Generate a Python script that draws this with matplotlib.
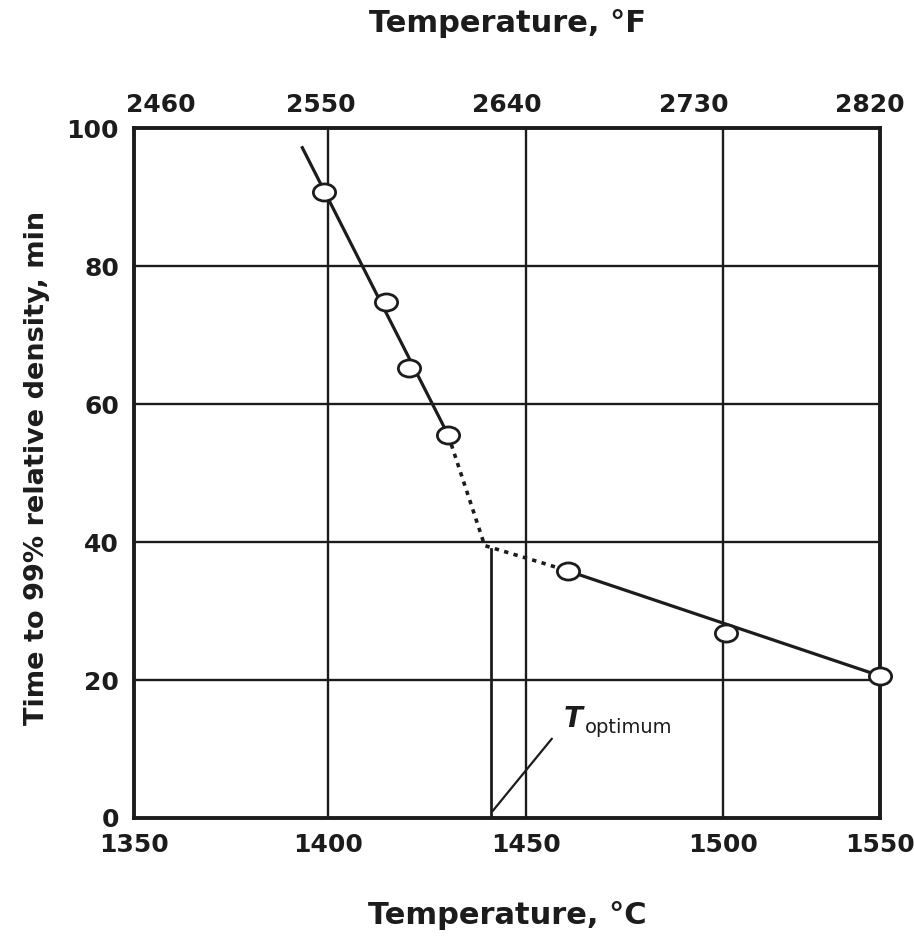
import numpy as np
import matplotlib
matplotlib.use("Agg")
import matplotlib.pyplot as plt
from matplotlib.path import Path
from matplotlib.transforms import Affine2D, ScaledTranslation

# ---- data ----
temp_c = [1399, 1414.6, 1420.5, 1430.3, 1460.7, 1500.8, 1550]
time_min = [90.8, 74.8, 65.2, 55.5, 35.8, 26.8, 20.6]

upper_fit_x = [1393.3, 1430.3]
upper_fit_y = [97.2, 55.5]
extrap_x = [1430.3, 1439.5, 1454.0, 1460.7]
extrap_y = [55.5, 39.5, 37.0, 35.8]
lower_fit_x = [1460.7, 1550]
lower_fit_y = [35.8, 20.6]

t_opt = 1441
t_opt_top = 39.0

bottom_ticks = [1350, 1400, 1450, 1500, 1550]
top_tick_labels = [2460, 2550, 2640, 2730, 2820]
y_ticks = [0, 20, 40, 60, 80, 100]

# the printed axis is not evenly spaced; reproduce its spacing
grid_c = np.array([1350, 1400, 1450, 1500, 1550], dtype=float)
grid_px = np.array([0, 194, 392, 589, 746], dtype=float)

def fwd(x):
    x = np.asarray(x, dtype=float)
    out = np.interp(x, grid_c, grid_px)
    out = np.where(x < grid_c[0], grid_px[0] + (x - grid_c[0]) * (grid_px[1] - grid_px[0]) / 50, out)
    out = np.where(x > grid_c[-1], grid_px[-1] + (x - grid_c[-1]) * (grid_px[-1] - grid_px[-2]) / 50, out)
    return out

def inv(p):
    p = np.asarray(p, dtype=float)
    out = np.interp(p, grid_px, grid_c)
    out = np.where(p < grid_px[0], grid_c[0] + (p - grid_px[0]) * 50 / (grid_px[1] - grid_px[0]), out)
    out = np.where(p > grid_px[-1], grid_c[-1] + (p - grid_px[-1]) * 50 / (grid_px[-1] - grid_px[-2]), out)
    return out

plt.rcParams['font.family'] = ['DejaVu Sans']
INK = '#1c1c1c'

fig = plt.figure(figsize=(9.14, 9.44), dpi=100)
ax = fig.add_axes([0.147, 0.1335, 0.816, 0.7305])
ax.set_xscale('function', functions=(fwd, inv))
ax.set_xlim(1350, 1550)
ax.set_ylim(0, 100)

# grid
for gx in bottom_ticks[1:-1]:
    ax.axvline(gx, color=INK, lw=1.7, zorder=1)
for gy in y_ticks[1:-1]:
    ax.axhline(gy, color=INK, lw=1.7, zorder=1)

ax.plot(upper_fit_x, upper_fit_y, color=INK, lw=2.3, zorder=2)
ax.plot(extrap_x, extrap_y, color=INK, lw=2.6, ls=(0, (1.2, 1.5)), zorder=2)
ax.plot(lower_fit_x, lower_fit_y, color=INK, lw=2.3, zorder=2)

ellipse = Path.unit_circle().transformed(Affine2D().scale(1.3, 1.0))
ax.plot(temp_c, time_min, linestyle='none', marker=ellipse, ms=16, mfc='white',
        mec=INK, mew=2.0, zorder=3, clip_on=False)

ax.plot([t_opt, t_opt], [0, t_opt_top], color=INK, lw=2.0, zorder=2)
ax.annotate('', xy=(t_opt + 0.5, 1.0), xytext=(1456.5, 11.5),
            arrowprops=dict(arrowstyle='-', color=INK, lw=1.6, shrinkA=0, shrinkB=0))
ax.text(1459.5, 12.3, 'T', fontsize=20, fontstyle='italic', fontweight='bold',
        color=INK, ha='left', va='bottom')
ax.annotate('optimum', xy=(1459.5, 12.3), xytext=(15, -3), textcoords='offset points',
            fontsize=14, color=INK, ha='left', va='bottom')

for s in ax.spines.values():
    s.set_linewidth(2.8)
    s.set_color(INK)

ax.set_xticks(bottom_ticks)
ax.set_xticklabels([str(t) for t in bottom_ticks])
ax.set_yticks(y_ticks)
ax.tick_params(axis='both', length=0, labelsize=18, colors=INK)
ax.tick_params(axis='x', pad=11)
ax.tick_params(axis='y', pad=11)
ax.minorticks_off()
for lab in ax.get_xticklabels() + ax.get_yticklabels():
    lab.set_fontweight('bold')

ax.set_xlabel('Temperature, °C', fontsize=22, fontweight='bold', color=INK)
ax.xaxis.set_label_coords(0.5, -0.121)
ax.set_ylabel('Time to 99% relative density, min', fontsize=19.5, fontweight='bold', color=INK)
ax.yaxis.set_label_coords(-0.113, 0.508)

top = ax.secondary_xaxis('top', functions=(lambda x: x, lambda x: x))
top.set_xticks(bottom_ticks)
top.set_xticklabels([str(t) for t in top_tick_labels])
top.tick_params(length=0, labelsize=18, colors=INK, pad=8)
top.spines['top'].set_visible(False)
offsets = [0.26, 0.0, 0.0, 0.0, -0.10]
for lab, dx in zip(top.get_xticklabels(), offsets):
    lab.set_fontweight('bold')
    lab.set_transform(lab.get_transform() + ScaledTranslation(dx, 0, fig.dpi_scale_trans))
top.set_xlabel('Temperature, °F', fontsize=22, fontweight='bold', color=INK, labelpad=44)

fig.savefig('out.png', dpi=100, facecolor='white')
